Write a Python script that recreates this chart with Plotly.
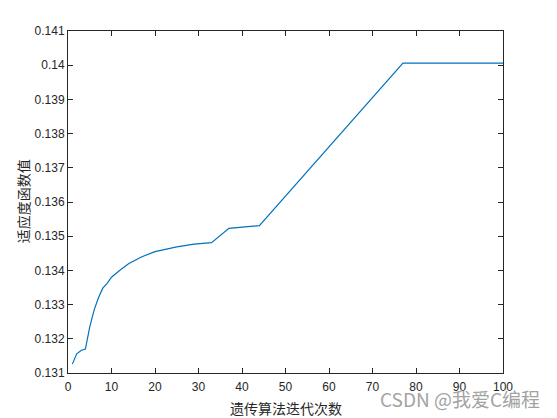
import plotly.graph_objects as go

# generations at which the curve changes shape, and the best fitness there
generation = [1, 2, 3, 4, 5, 6, 7, 8, 9, 10, 12, 14, 17, 20, 25, 29, 33, 37, 44, 71, 77, 100]
fitness = [0.13126, 0.13156, 0.13166, 0.13170, 0.13235, 0.13284, 0.13320, 0.13348, 0.13362,
           0.13380, 0.13401, 0.13420, 0.13440, 0.13455, 0.13469, 0.13477, 0.13481,
           0.13523, 0.13531, 0.13922, 0.14006, 0.14006]

x_ticks = [0, 10, 20, 30, 40, 50, 60, 70, 80, 90, 100]
y_ticks = [0.131, 0.132, 0.133, 0.134, 0.135, 0.136, 0.137, 0.138, 0.139, 0.14, 0.141]

x_title = "遗传算法迭代次数"
y_title = "适应度函数值"
watermark = "CSDN @我爱C编程"

tick_font = dict(family="Liberation Sans, Arial, sans-serif", size=12, color="#262626")
cjk_font = dict(family="Noto Sans CJK SC, sans-serif", size=14, color="#262626")

fig = go.Figure(
    go.Scatter(x=generation, y=fitness, mode="lines",
               line=dict(color="#0072BD", width=1.2), showlegend=False)
)

axis_common = dict(
    showline=True, linecolor="#262626", linewidth=1, mirror="allticks",
    ticks="inside", ticklen=5, tickcolor="#262626", tickwidth=1,
    showgrid=False, zeroline=False, tickfont=tick_font, automargin=False,
)
fig.update_xaxes(range=[0, 100], tickvals=x_ticks, ticktext=[str(v) for v in x_ticks],
                 ticklabelstandoff=3, **axis_common)
fig.update_yaxes(range=[0.131, 0.141], tickvals=y_ticks, ticktext=[str(v) for v in y_ticks],
                 **axis_common)

# axis titles placed by hand so the plot area stays put
fig.add_annotation(text=x_title, xref="paper", yref="paper", x=0.5, y=-0.102,
                   xanchor="center", yanchor="middle", showarrow=False, font=cjk_font)
fig.add_annotation(text=y_title, xref="paper", yref="paper", x=-0.103, y=0.503,
                   xanchor="center", yanchor="middle", textangle=-90, showarrow=False,
                   font=cjk_font)

# watermark in the lower right corner
fig.add_annotation(text=watermark, xref="paper", yref="paper", x=1.09, y=-0.076,
                   xanchor="right", yanchor="middle", showarrow=False,
                   font=dict(family="Noto Sans CJK SC, sans-serif", size=19, color="#a3a3a3"))

# the page puts the figure 8px in from the top-left corner
fig.update_layout(
    width=549, height=410,
    margin=dict(l=60, r=54, t=23, b=45),
    paper_bgcolor="white", plot_bgcolor="white",
)

fig.write_html("out.html")
